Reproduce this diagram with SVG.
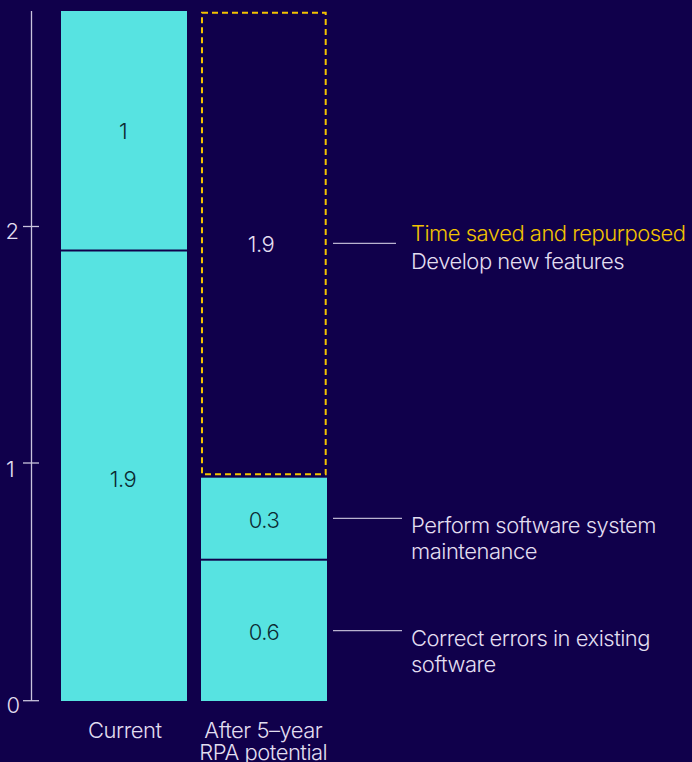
<svg xmlns="http://www.w3.org/2000/svg" width="692" height="762" viewBox="0 0 692 762">
<style>
  text { font-family: Inter, "Liberation Sans", sans-serif; font-weight: 300; font-size: 22px; letter-spacing: -0.5px; }
  .lt { fill: #e2def0; }
  .dk { fill: #0c2b33; }
  .ax { stroke: #c9c3dc; stroke-width: 1.3; fill: none; }
  .bar { fill: #57e3e1; }
  .lead { stroke: #b9b2cf; stroke-width: 1.3; fill: none; }
  .gold { fill: #f2c300; }
</style>
<rect width="692" height="762" fill="#10004b"/>
<g id="axis">
  <line class="ax" x1="31.5" y1="11" x2="31.5" y2="701"/>
  <line class="ax" x1="23" y1="700.7" x2="39" y2="700.7"/>
  <line class="ax" x1="23" y1="463" x2="39" y2="463"/>
  <line class="ax" x1="23" y1="226.5" x2="39" y2="226.5"/>
  <text class="lt" x="13" y="713" text-anchor="middle">0</text>
  <text class="lt" x="10" y="476.7" text-anchor="middle">1</text>
  <text class="lt" x="12" y="239.3" text-anchor="middle">2</text>
</g>
<g id="bar-current">
  <rect class="bar" x="61" y="11" width="126" height="238.5"/>
  <rect class="bar" x="61" y="251.5" width="126" height="449.5"/>
  <text class="dk" x="123" y="139.3" text-anchor="middle">1</text>
  <text class="dk" x="123" y="486.7" text-anchor="middle">1.9</text>
  <text class="lt" x="124.8" y="737.7" text-anchor="middle">Current</text>
</g>
<g id="bar-after">
  <rect x="202" y="12.7" width="123.7" height="461.6" fill="none" stroke="#f2c300" stroke-width="2" stroke-dasharray="6 4"/>
  <rect class="bar" x="201" y="477.7" width="126" height="81"/>
  <rect class="bar" x="201" y="560.7" width="126" height="140.3"/>
  <text class="lt" x="261" y="252.3" text-anchor="middle">1.9</text>
  <text class="dk" x="264" y="528.3" text-anchor="middle">0.3</text>
  <text class="dk" x="264" y="639.5" text-anchor="middle">0.6</text>
  <text class="lt" x="263.3" y="737.7" text-anchor="middle">After 5–year</text>
  <text class="lt" x="263.3" y="759.5" text-anchor="middle">RPA potential</text>
</g>
<g id="connectors">
  <line class="lead" x1="333" y1="243.3" x2="396" y2="243.3"/>
  <line class="lead" x1="333" y1="518.3" x2="402" y2="518.3"/>
  <line class="lead" x1="333" y1="630.7" x2="402" y2="630.7"/>
</g>
<g id="label-saved">
  <text class="gold" x="411" y="241">Time saved and repurposed</text>
  <text class="lt" x="411" y="269.3">Develop new features</text>
</g>
<g id="label-maintenance">
  <text class="lt" x="411" y="533.3">Perform software system</text>
  <text class="lt" x="411" y="559">maintenance</text>
</g>
<g id="label-errors">
  <text class="lt" x="411" y="645.7">Correct errors in existing</text>
  <text class="lt" x="411" y="671.7">software</text>
</g>
</svg>
